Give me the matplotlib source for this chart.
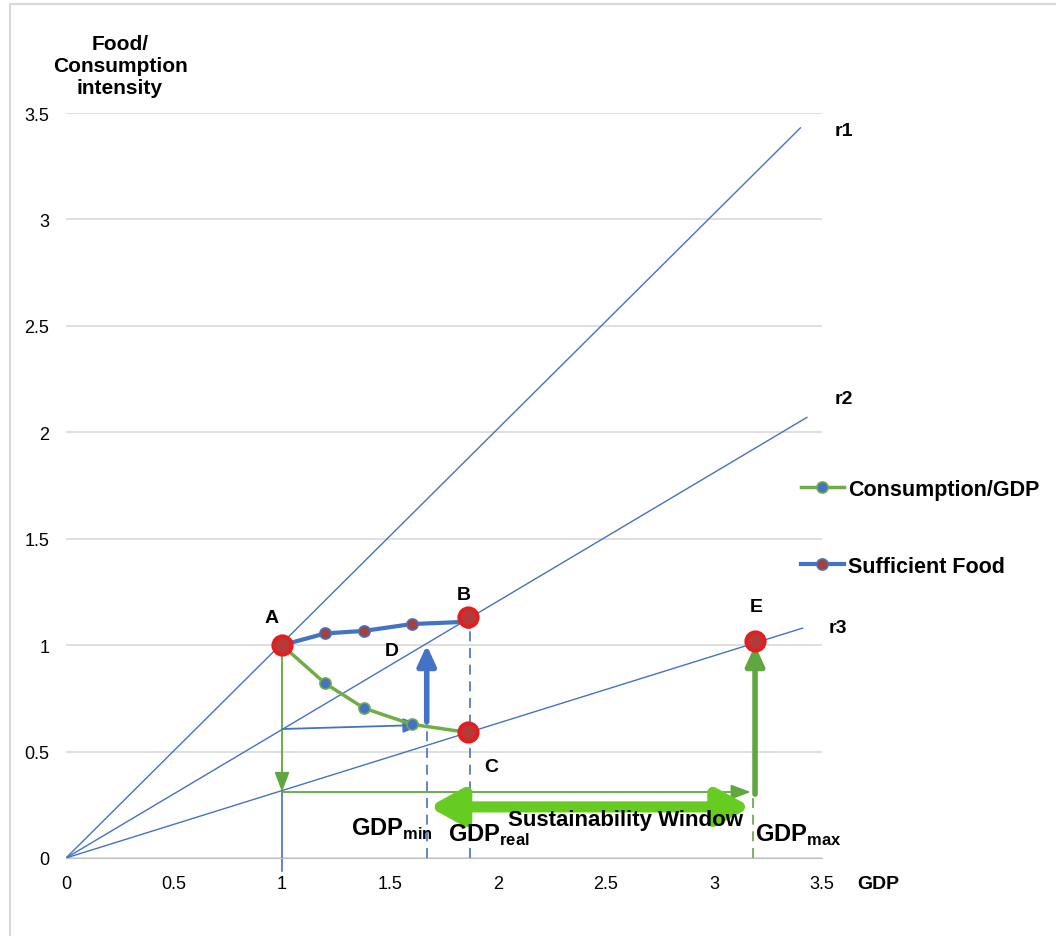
import numpy as np
import matplotlib
matplotlib.use('Agg')
import matplotlib.pyplot as plt
from matplotlib.patches import Rectangle, FancyArrowPatch

plt.rcParams['font.family'] = ['Liberation Sans', 'DejaVu Sans']
plt.rcParams['mathtext.fontset'] = 'custom'
plt.rcParams['mathtext.rm'] = 'Liberation Sans'
plt.rcParams['mathtext.bf'] = 'Liberation Sans:bold'

# data
food_x = [1.0, 1.2, 1.38, 1.6, 1.86]
food_y = [1.0, 1.055, 1.067, 1.099, 1.11]
cons_x = [1.0, 1.2, 1.38, 1.6, 1.86]
cons_y = [1.0, 0.82, 0.704, 0.628, 0.59]
big_x = [1.0, 1.86, 1.86, 3.19]   # A, B, C, E
big_y = [1.0, 1.13, 0.59, 1.02]
ray_end_x = [3.4, 3.43, 3.41]      # r1, r2, r3
ray_end_y = [3.43, 2.07, 1.08]
ray_names = ['r1', 'r2', 'r3']
gdp_min, gdp_real, gdp_max = 1.67, 1.87, 3.18
xticks = [0, 0.5, 1, 1.5, 2, 2.5, 3, 3.5]
yticks = [0, 0.5, 1, 1.5, 2, 2.5, 3, 3.5]

blue = '#4472C4'
green = '#5FA83F'
lime = '#66CC22'
red = '#E02020'

fig = plt.figure(figsize=(10.56, 9.37), dpi=100)
fig.patches.append(Rectangle((10 / 1056, -0.1), 1.2, 1.1 - 5 / 937, transform=fig.transFigure,
                             fill=False, edgecolor='#D9D9D9', linewidth=1.5))
ax = fig.add_axes([66 / 1056, 1 - 859 / 937, (822 - 66) / 1056, (859 - 114) / 937])
ax.set_xlim(0, 3.5)
ax.set_ylim(0, 3.5)
ax.set_xticks(xticks)
ax.set_yticks(yticks)
ax.set_xticklabels([f'{t:g}' for t in xticks])
ax.set_yticklabels([f'{t:g}' for t in yticks])
ax.tick_params(length=0, labelsize=13, pad=12)
for s in ['left', 'right', 'top']:
    ax.spines[s].set_visible(False)
ax.spines['bottom'].set_color('#BFBFBF')
ax.grid(axis='y', color='#D9D9D9', linewidth=1.2)
ax.set_axisbelow(True)

# rays r1, r2, r3
lab_pos = [(3.56, 3.42), (3.56, 2.16), (3.53, 1.085)]
for ex, ey, name, (lx, ly) in zip(ray_end_x, ray_end_y, ray_names, lab_pos):
    ax.plot([0, ex], [0, ey], color=blue, lw=1, zorder=2)
    ax.text(lx, ly, name, fontsize=14, fontweight='bold', va='center', ha='left', clip_on=False)

# guide lines
ax.plot([1, 1], [-0.06, 0.31], color=blue, lw=1.2, clip_on=False, zorder=2)
ax.plot([gdp_min, gdp_min], [0, 0.63], color=blue, lw=1.2, ls=(0, (6, 4)), zorder=2)
ax.plot([gdp_real, gdp_real], [0, 1.12], color=blue, lw=1.2, ls=(0, (6, 4)), zorder=2)
ax.plot([gdp_max, gdp_max], [0, 0.3], color=green, lw=1.2, ls=(0, (6, 4)), zorder=2)

def arrow(p0, p1, color, lw, head_w, head_l, both=False):
    style = f'{"<|" if both else ""}-|>,head_width={head_w},head_length={head_l}'
    a = FancyArrowPatch(p0, p1, arrowstyle=style, color=color, lw=lw,
                        shrinkA=0, shrinkB=0, mutation_scale=10, zorder=3)
    ax.add_patch(a)

arrow((1, 1.0), (1, 0.31), green, 1.3, 0.45, 1.2)
arrow((1, 0.31), (3.17, 0.31), green, 1.3, 0.45, 1.2)
arrow((1, 0.606), (1.65, 0.625), blue, 1.3, 0.45, 1.2)
arrow((gdp_min, 0.64), (gdp_min, 1.0), blue, 4, 0.55, 1.2)
arrow((3.19, 0.3), (3.19, 1.0), green, 4, 0.55, 1.2)
arrow((gdp_min + 0.01, 0.24), (3.17, 0.24), lime, 8, 1.05, 1.9, both=True)

# series
ax.plot(cons_x, cons_y, color='#70AD47', lw=2.5, marker='o', ms=8,
        mfc=blue, mec='#70AD47', mew=1.2, zorder=4, label='Consumption/GDP')
ax.plot(food_x, food_y, color=blue, lw=3, marker='o', ms=8,
        mfc='#A5403A', mec=blue, mew=1.2, zorder=4, label='Sufficient Food')
ax.plot(big_x, big_y, ls='none', marker='o', ms=13, mfc='#B53A3A', mec=red, mew=3, zorder=5)

# point labels
for t, x, y in [('A', 0.95, 1.13), ('B', 1.84, 1.24), ('D', 1.51, 0.977),
                ('C', 1.97, 0.43), ('E', 3.195, 1.182)]:
    ax.text(x, y, t, fontsize=14, fontweight='bold', ha='center', va='center')

ax.text(1.70, 0.08, r'$\mathbf{GDP}_{\mathbf{min}}$', fontsize=17, ha='right', va='bottom')
ax.text(gdp_real - 0.1, 0.05, r'$\mathbf{GDP}_{\mathbf{real}}$', fontsize=17, ha='left', va='bottom')
ax.text(gdp_max + 0.01, 0.05, r'$\mathbf{GDP}_{\mathbf{max}}$', fontsize=17, ha='left', va='bottom',
        clip_on=False)
ax.text(2.59, 0.18, 'Sustainability Window', fontsize=16, fontweight='bold', ha='center', va='center')
ax.text(3.76, -0.12, 'GDP', fontsize=14, fontweight='bold', ha='center', va='center', clip_on=False)
fig.text(120 / 1056, 1 - 66 / 937, 'Food/\nConsumption\nintensity', fontsize=15,
         fontweight='bold', ha='center', va='center', linespacing=1.2)

leg = ax.legend(loc='center left', bbox_to_anchor=(0.946, 0.443), frameon=False,
                prop={'weight': 'bold', 'size': 15.5}, handlelength=2.0, labelspacing=2.6,
                handletextpad=0.2)

fig.savefig('out.png', dpi=100)
